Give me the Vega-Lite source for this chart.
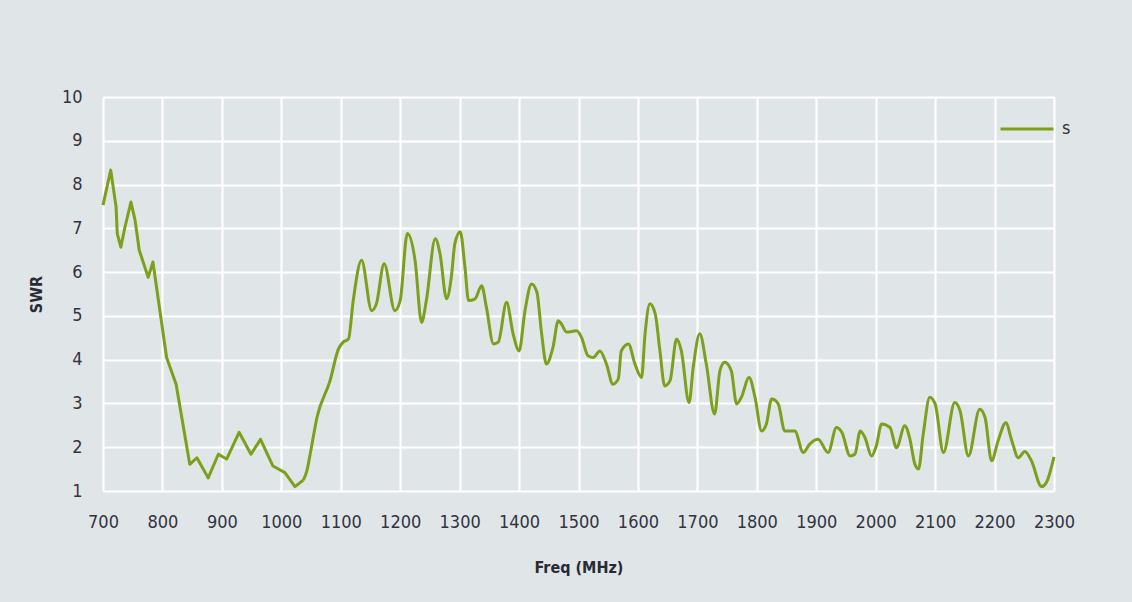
{
  "$schema": "https://vega.github.io/schema/vega-lite/v6.json",
  "width": 951,
  "height": 394,
  "autosize": {"type": "none"},
  "padding": {"left": 103, "top": 97, "right": 78, "bottom": 111},
  "background": "#e0e5e8",
  "config": {
    "view": {"stroke": null, "fill": "#e0e5e8"},
    "font": "DejaVu Sans Condensed",
    "axis": {
      "grid": true,
      "gridColor": "#ffffff",
      "gridWidth": 2,
      "gridOpacity": 1,
      "domain": false,
      "ticks": false,
      "tickSize": 0,
      "labelFont": "DejaVu Sans Condensed",
      "labelFontSize": 18,
      "labelColor": "#33333f",
      "titleFont": "DejaVu Sans Condensed",
      "titleFontSize": 16,
      "titleFontWeight": "bold",
      "titleColor": "#2a2a34"
    }
  },
  "data": {
    "values": [
      {"f": 700, "swr": 7.53, "series": "s"},
      {"f": 713, "swr": 8.33, "series": "s"},
      {"f": 722, "swr": 7.49, "series": "s"},
      {"f": 724, "swr": 6.88, "series": "s"},
      {"f": 730, "swr": 6.57, "series": "s"},
      {"f": 737, "swr": 7.03, "series": "s"},
      {"f": 747, "swr": 7.6, "series": "s"},
      {"f": 754, "swr": 7.18, "series": "s"},
      {"f": 761, "swr": 6.5, "series": "s"},
      {"f": 776, "swr": 5.88, "series": "s"},
      {"f": 784, "swr": 6.23, "series": "s"},
      {"f": 807, "swr": 4.05, "series": "s"},
      {"f": 823, "swr": 3.44, "series": "s"},
      {"f": 846, "swr": 1.61, "series": "s"},
      {"f": 858, "swr": 1.76, "series": "s"},
      {"f": 877, "swr": 1.3, "series": "s"},
      {"f": 894, "swr": 1.84, "series": "s"},
      {"f": 908, "swr": 1.73, "series": "s"},
      {"f": 929, "swr": 2.34, "series": "s"},
      {"f": 949, "swr": 1.84, "series": "s"},
      {"f": 965, "swr": 2.18, "series": "s"},
      {"f": 986, "swr": 1.57, "series": "s"},
      {"f": 1006, "swr": 1.42, "series": "s"},
      {"f": 1023, "swr": 1.1, "series": "s"},
      {"f": 1037, "swr": 1.25, "series": "s"},
      {"f": 1043, "swr": 1.46, "series": "s"},
      {"f": 1050, "swr": 1.95, "series": "s"},
      {"f": 1060, "swr": 2.68, "series": "s"},
      {"f": 1082, "swr": 3.52, "series": "s"},
      {"f": 1096, "swr": 4.24, "series": "s"},
      {"f": 1104, "swr": 4.4, "series": "s"},
      {"f": 1113, "swr": 4.47, "series": "s"},
      {"f": 1121, "swr": 5.35, "series": "s"},
      {"f": 1135, "swr": 6.27, "series": "s"},
      {"f": 1152, "swr": 5.12, "series": "s"},
      {"f": 1160, "swr": 5.28, "series": "s"},
      {"f": 1173, "swr": 6.19, "series": "s"},
      {"f": 1191, "swr": 5.12, "series": "s"},
      {"f": 1200, "swr": 5.35, "series": "s"},
      {"f": 1212, "swr": 6.88, "series": "s"},
      {"f": 1225, "swr": 6.27, "series": "s"},
      {"f": 1236, "swr": 4.85, "series": "s"},
      {"f": 1244, "swr": 5.35, "series": "s"},
      {"f": 1259, "swr": 6.76, "series": "s"},
      {"f": 1267, "swr": 6.42, "series": "s"},
      {"f": 1278, "swr": 5.39, "series": "s"},
      {"f": 1286, "swr": 5.88, "series": "s"},
      {"f": 1292, "swr": 6.65, "series": "s"},
      {"f": 1301, "swr": 6.92, "series": "s"},
      {"f": 1309, "swr": 6.11, "series": "s"},
      {"f": 1315, "swr": 5.35, "series": "s"},
      {"f": 1326, "swr": 5.39, "series": "s"},
      {"f": 1337, "swr": 5.69, "series": "s"},
      {"f": 1345, "swr": 5.2, "series": "s"},
      {"f": 1357, "swr": 4.36, "series": "s"},
      {"f": 1365, "swr": 4.4, "series": "s"},
      {"f": 1379, "swr": 5.31, "series": "s"},
      {"f": 1390, "swr": 4.59, "series": "s"},
      {"f": 1400, "swr": 4.2, "series": "s"},
      {"f": 1410, "swr": 5.12, "series": "s"},
      {"f": 1421, "swr": 5.73, "series": "s"},
      {"f": 1430, "swr": 5.54, "series": "s"},
      {"f": 1438, "swr": 4.59, "series": "s"},
      {"f": 1446, "swr": 3.9, "series": "s"},
      {"f": 1457, "swr": 4.28, "series": "s"},
      {"f": 1466, "swr": 4.89, "series": "s"},
      {"f": 1471, "swr": 4.82, "series": "s"},
      {"f": 1480, "swr": 4.63, "series": "s"},
      {"f": 1497, "swr": 4.66, "series": "s"},
      {"f": 1505, "swr": 4.51, "series": "s"},
      {"f": 1516, "swr": 4.09, "series": "s"},
      {"f": 1525, "swr": 4.05, "series": "s"},
      {"f": 1536, "swr": 4.2, "series": "s"},
      {"f": 1547, "swr": 3.9, "series": "s"},
      {"f": 1558, "swr": 3.44, "series": "s"},
      {"f": 1567, "swr": 3.56, "series": "s"},
      {"f": 1572, "swr": 4.2, "series": "s"},
      {"f": 1584, "swr": 4.36, "series": "s"},
      {"f": 1595, "swr": 3.9, "series": "s"},
      {"f": 1606, "swr": 3.59, "series": "s"},
      {"f": 1612, "swr": 4.59, "series": "s"},
      {"f": 1620, "swr": 5.28, "series": "s"},
      {"f": 1629, "swr": 5.05, "series": "s"},
      {"f": 1637, "swr": 4.2, "series": "s"},
      {"f": 1645, "swr": 3.4, "series": "s"},
      {"f": 1654, "swr": 3.52, "series": "s"},
      {"f": 1665, "swr": 4.47, "series": "s"},
      {"f": 1673, "swr": 4.2, "series": "s"},
      {"f": 1686, "swr": 3.02, "series": "s"},
      {"f": 1693, "swr": 3.82, "series": "s"},
      {"f": 1704, "swr": 4.59, "series": "s"},
      {"f": 1715, "swr": 3.9, "series": "s"},
      {"f": 1729, "swr": 2.76, "series": "s"},
      {"f": 1738, "swr": 3.75, "series": "s"},
      {"f": 1746, "swr": 3.94, "series": "s"},
      {"f": 1757, "swr": 3.75, "series": "s"},
      {"f": 1766, "swr": 2.99, "series": "s"},
      {"f": 1774, "swr": 3.14, "series": "s"},
      {"f": 1787, "swr": 3.59, "series": "s"},
      {"f": 1797, "swr": 3.14, "series": "s"},
      {"f": 1808, "swr": 2.37, "series": "s"},
      {"f": 1816, "swr": 2.53, "series": "s"},
      {"f": 1825, "swr": 3.1, "series": "s"},
      {"f": 1836, "swr": 2.99, "series": "s"},
      {"f": 1847, "swr": 2.37, "series": "s"},
      {"f": 1864, "swr": 2.37, "series": "s"},
      {"f": 1878, "swr": 1.88, "series": "s"},
      {"f": 1889, "swr": 2.07, "series": "s"},
      {"f": 1903, "swr": 2.18, "series": "s"},
      {"f": 1920, "swr": 1.88, "series": "s"},
      {"f": 1934, "swr": 2.45, "series": "s"},
      {"f": 1943, "swr": 2.34, "series": "s"},
      {"f": 1957, "swr": 1.8, "series": "s"},
      {"f": 1965, "swr": 1.84, "series": "s"},
      {"f": 1974, "swr": 2.37, "series": "s"},
      {"f": 1982, "swr": 2.22, "series": "s"},
      {"f": 1993, "swr": 1.8, "series": "s"},
      {"f": 2001, "swr": 2.03, "series": "s"},
      {"f": 2010, "swr": 2.53, "series": "s"},
      {"f": 2024, "swr": 2.45, "series": "s"},
      {"f": 2035, "swr": 1.99, "series": "s"},
      {"f": 2049, "swr": 2.49, "series": "s"},
      {"f": 2057, "swr": 2.22, "series": "s"},
      {"f": 2066, "swr": 1.61, "series": "s"},
      {"f": 2072, "swr": 1.5, "series": "s"},
      {"f": 2080, "swr": 2.3, "series": "s"},
      {"f": 2091, "swr": 3.14, "series": "s"},
      {"f": 2100, "swr": 2.99, "series": "s"},
      {"f": 2114, "swr": 1.88, "series": "s"},
      {"f": 2133, "swr": 3.02, "series": "s"},
      {"f": 2142, "swr": 2.83, "series": "s"},
      {"f": 2156, "swr": 1.8, "series": "s"},
      {"f": 2175, "swr": 2.87, "series": "s"},
      {"f": 2184, "swr": 2.68, "series": "s"},
      {"f": 2195, "swr": 1.69, "series": "s"},
      {"f": 2206, "swr": 2.15, "series": "s"},
      {"f": 2219, "swr": 2.56, "series": "s"},
      {"f": 2229, "swr": 2.15, "series": "s"},
      {"f": 2240, "swr": 1.76, "series": "s"},
      {"f": 2251, "swr": 1.9, "series": "s"},
      {"f": 2262, "swr": 1.69, "series": "s"},
      {"f": 2279, "swr": 1.1, "series": "s"},
      {"f": 2287, "swr": 1.19, "series": "s"},
      {"f": 2300, "swr": 1.78, "series": "s"}
    ]
  },
  "encoding": {
    "x": {
      "field": "f",
      "type": "quantitative",
      "title": "Freq (MHz)",
      "scale": {"domain": [700, 2300], "nice": false, "zero": false},
      "axis": {"values": [700, 800, 900, 1000, 1100, 1200, 1300, 1400, 1500, 1600, 1700, 1800, 1900, 2000, 2100, 2200, 2300], "labelPadding": 22, "titlePadding": 28, "format": "d", "labelFlush": false}
    },
    "y": {
      "field": "swr",
      "type": "quantitative",
      "title": "SWR",
      "scale": {"domain": [1, 10], "nice": false, "zero": false},
      "axis": {"values": [1, 2, 3, 4, 5, 6, 7, 8, 9, 10], "labelPadding": 21, "titlePadding": 17, "labelFlush": false}
    },
    "color": {
      "field": "series",
      "type": "nominal",
      "scale": {"range": ["#7c9f1c"]},
      "legend": {
        "title": null,
        "orient": "none",
        "legendX": 896,
        "legendY": 4,
        "padding": 0,
        "symbolType": "stroke",
        "symbolSize": 2800,
        "symbolStrokeWidth": 3,
        "labelFontSize": 18,
        "labelFont": "DejaVu Sans Condensed",
        "labelColor": "#33333f",
        "labelOffset": 7
      }
    }
  },
  "layer": [
    {
      "transform": [{"filter": "datum.f <= 1037"}],
      "mark": {"type": "line", "interpolate": "linear", "strokeWidth": 3, "strokeJoin": "round"}
    },
    {
      "transform": [{"filter": "datum.f >= 1037"}],
      "mark": {"type": "line", "interpolate": "monotone", "strokeWidth": 3}
    }
  ]
}
